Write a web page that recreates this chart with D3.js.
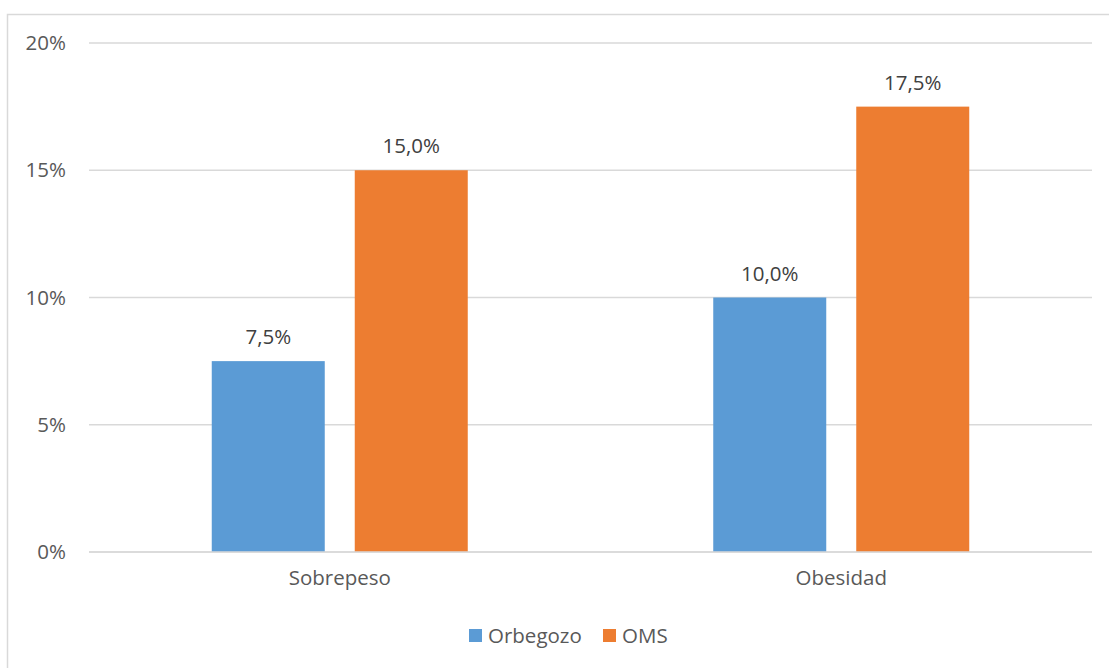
<!DOCTYPE html>
<html>
<head>
<meta charset="utf-8">
<script src="https://cdn.jsdelivr.net/npm/d3@7"></script>
<style>
  html, body { margin: 0; padding: 0; background: #fff; }
  svg { display: block; font-family: "Open Sans", "Noto Sans", sans-serif; }
</style>
</head>
<body>
<svg id="chart" width="1109" height="668"></svg>
<script>
// Chart data
const categories = ["Sobrepeso", "Obesidad"];
const seriesNames = ["Orbegozo", "OMS"];
const orbegozoValues = [7.5, 10.0];
const omsValues = [15.0, 17.5];
const yTicks = [0, 5, 10, 15, 20];
const seriesColors = ["#5B9BD5", "#ED7D31"];

const seriesValues = [orbegozoValues, omsValues];

const svg = d3.select("#chart");
const W = 1109, H = 668;
const fontSize = 20.5;

// outer frame
svg.append("rect")
  .attr("x", 7.5).attr("y", 14.5)
  .attr("width", W + 10).attr("height", H + 10)
  .attr("fill", "none").attr("stroke", "#D9D9D9").attr("stroke-width", 1.5);

const plot = { left: 89, right: 1092, top: 43, bottom: 552 };

const y = d3.scaleLinear().domain([0, 20]).range([plot.bottom, plot.top]);
const x0 = d3.scaleBand().domain(categories).range([plot.left, plot.right]).padding(0);
const x1 = d3.scaleBand().domain(seriesNames).range([-128, 128])
  .paddingInner(30 / 143).paddingOuter(0);

const fmt = v => d3.format(".1f")(v).replace(".", ",") + "%";
const textColor = "#595959";

// gridlines
svg.append("g").selectAll("line").data(yTicks).join("line")
  .attr("x1", plot.left).attr("x2", plot.right)
  .attr("y1", d => y(d)).attr("y2", d => y(d))
  .attr("stroke", "#D9D9D9").attr("stroke-width", 1.5);

// y axis tick labels
const yAxis = d3.axisLeft(y).tickValues(yTicks).tickFormat(d => d + "%").tickSize(0).tickPadding(0);
const gy = svg.append("g").attr("transform", "translate(66,0)").call(yAxis);
gy.select(".domain").remove();
gy.selectAll("text").attr("fill", textColor).attr("font-size", fontSize)
  .attr("font-family", "'Open Sans', sans-serif");

// bars
const groups = svg.append("g").selectAll("g").data(categories).join("g")
  .attr("transform", c => `translate(${x0(c) + x0.bandwidth() / 2},0)`);

groups.each(function (c, ci) {
  const g = d3.select(this);
  seriesNames.forEach((s, si) => {
    const v = seriesValues[si][ci];
    g.append("rect")
      .attr("x", x1(s)).attr("width", x1.bandwidth())
      .attr("y", y(v)).attr("height", y(0) - y(v))
      .attr("fill", seriesColors[si]);
    g.append("text")
      .attr("x", x1(s) + x1.bandwidth() / 2)
      .attr("y", y(v) - 17)
      .attr("text-anchor", "middle")
      .attr("fill", "#404040").attr("font-size", fontSize)
      .text(fmt(v));
  });
});

// x axis category labels
const xAxis = d3.axisBottom(x0).tickSize(0).tickPadding(0);
const gx = svg.append("g").attr("transform", `translate(0,${plot.bottom + 18})`).call(xAxis);
gx.select(".domain").remove();
gx.selectAll("text").attr("fill", textColor).attr("font-size", fontSize)
  .attr("font-family", "'Open Sans', sans-serif").attr("dy", "0.71em");

// re-draw baseline over bars
svg.append("line")
  .attr("x1", plot.left).attr("x2", plot.right)
  .attr("y1", y(0)).attr("y2", y(0))
  .attr("stroke", "#D9D9D9").attr("stroke-width", 1.5);

// legend
const legendItems = [
  { name: seriesNames[0], color: seriesColors[0], x: 469 },
  { name: seriesNames[1], color: seriesColors[1], x: 603 }
];
const lg = svg.append("g");
legendItems.forEach(it => {
  lg.append("rect").attr("x", it.x).attr("y", 629).attr("width", 13).attr("height", 13)
    .attr("fill", it.color);
  lg.append("text").attr("x", it.x + 19).attr("y", 643)
    .attr("fill", textColor).attr("font-size", fontSize).text(it.name);
});
</script>
</body>
</html>
